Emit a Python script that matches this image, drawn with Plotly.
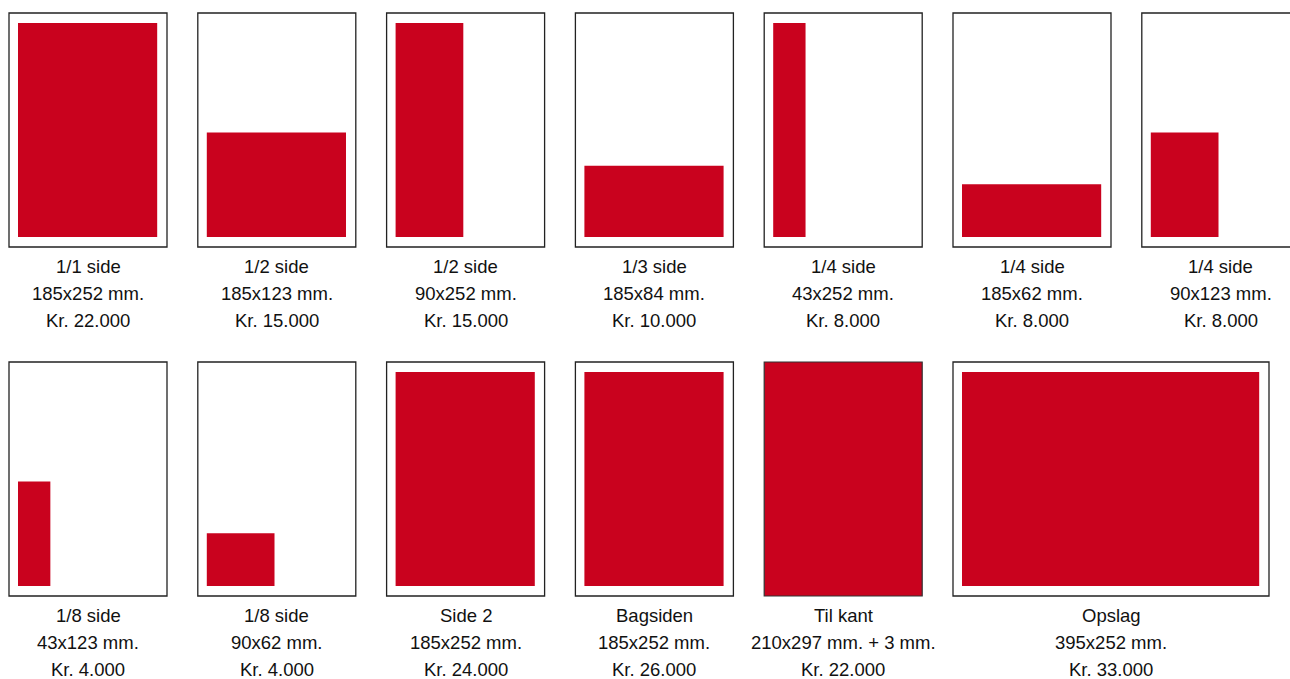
import plotly.graph_objects as go

# ---- data ----
labels = ["1/1 side", "1/2 side", "1/2 side", "1/3 side", "1/4 side", "1/4 side", "1/4 side",
          "1/8 side", "1/8 side", "Side 2", "Bagsiden", "Til kant", "Opslag"]
sizes = ["185x252 mm.", "185x123 mm.", "90x252 mm.", "185x84 mm.", "43x252 mm.", "185x62 mm.",
         "90x123 mm.", "43x123 mm.", "90x62 mm.", "185x252 mm.", "185x252 mm.",
         "210x297 mm. + 3 mm.", "395x252 mm."]
prices = ["Kr. 22.000", "Kr. 15.000", "Kr. 15.000", "Kr. 10.000", "Kr. 8.000", "Kr. 8.000",
          "Kr. 8.000", "Kr. 4.000", "Kr. 4.000", "Kr. 24.000", "Kr. 26.000", "Kr. 22.000",
          "Kr. 33.000"]
ad_w_mm = [185, 185, 90, 185, 43, 185, 90, 43, 90, 185, 185, 210, 395]
ad_h_mm = [252, 123, 252, 84, 252, 62, 123, 123, 62, 252, 252, 297, 252]
page_w_mm = [210, 210, 210, 210, 210, 210, 210, 210, 210, 210, 210, 210, 420]
bleed = [False] * 11 + [True, False]

# ---- layout constants (pixels) ----
W, H = 1290, 679
RED = "#C9021E"
EDGE = "#222222"
COL_X0 = 9
COL_STEP = 188.8
ROW_Y0 = [13, 362]
BOX_H = 234
PX_PER_MM_X = 158 / 210
PAD_L, PAD_T, PAD_B = 9, 10, 10
INNER_W_MM, INNER_H_MM = 185, 252
INNER_H_PX = BOX_H - PAD_T - PAD_B
TEXT_DY = [19, 46, 73]
PER_ROW = 7

fig = go.Figure()
shapes = []
annotations = []

for i in range(len(labels)):
    row = i // PER_ROW
    col = i % PER_ROW
    bx0 = COL_X0 + col * COL_STEP
    by0 = ROW_Y0[row]
    bw = page_w_mm[i] * PX_PER_MM_X
    bx1 = bx0 + bw
    by1 = by0 + BOX_H
    if bleed[i]:
        shapes.append(dict(type="rect", xref="x", yref="y", x0=bx0, x1=bx1, y0=by0, y1=by1,
                           fillcolor=RED, line=dict(color="#333333", width=1.2), layer="above"))
    else:
        shapes.append(dict(type="rect", xref="x", yref="y", x0=bx0, x1=bx1, y0=by0, y1=by1,
                           fillcolor="white", line=dict(color=EDGE, width=1.3), layer="below"))
        aw = ad_w_mm[i] * PX_PER_MM_X
        ah = ad_h_mm[i] / INNER_H_MM * INNER_H_PX
        ax0 = bx0 + PAD_L
        ay1 = by1 - PAD_B
        shapes.append(dict(type="rect", xref="x", yref="y", x0=ax0, x1=ax0 + aw,
                           y0=ay1 - ah, y1=ay1, fillcolor=RED, line=dict(width=0), layer="above"))
    cx = (bx0 + bx1) / 2
    for txt, dy in zip([labels[i], sizes[i], prices[i]], TEXT_DY):
        annotations.append(dict(x=cx, y=by1 + dy, xref="x", yref="y", text=txt, showarrow=False,
                                xanchor="center", yanchor="middle",
                                font=dict(family="Liberation Sans, Arial, sans-serif",
                                          size=18.5, color="#111111")))

fig.update_layout(
    width=W, height=H,
    margin=dict(l=0, r=0, t=0, b=0),
    paper_bgcolor="white", plot_bgcolor="white",
    xaxis=dict(range=[0, W], visible=False, fixedrange=True),
    yaxis=dict(range=[H, 0], visible=False, fixedrange=True),
    shapes=shapes, annotations=annotations, showlegend=False,
)
fig.write_html("out.html", config={"displayModeBar": False},
               post_script="document.body.style.margin='0';document.body.style.overflow='hidden';")
